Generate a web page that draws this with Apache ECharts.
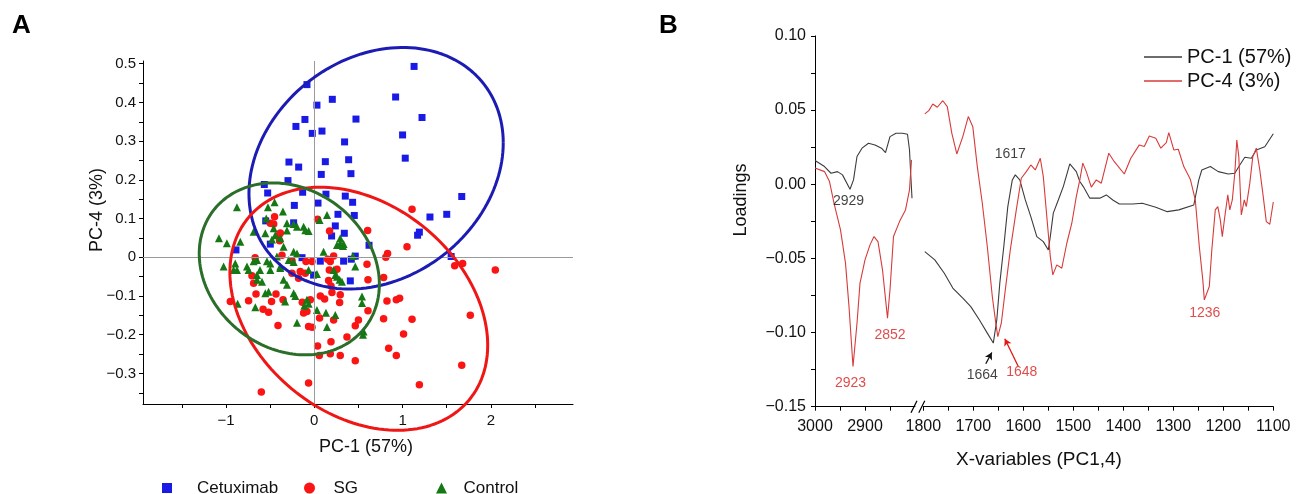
<!DOCTYPE html>
<html><head><meta charset="utf-8">
<script src="https://cdn.jsdelivr.net/npm/echarts@6/dist/echarts.min.js"></script>
<style>html,body{margin:0;padding:0;background:#fff}#c{width:1301px;height:494px}</style>
</head><body><div id="c"></div>
<script>
// ---------- Panel A data ----------
const cetuximab = [
[1.13,0.493],[-0.083,0.446],[0.03,0.393],[0.204,0.408],[0.921,0.414],[1.22,0.361],[-0.106,0.356],[-0.208,0.338],[0.472,0.357],[-0.023,0.320],[0.087,0.326],[1.00,0.316],[0.343,0.298],[1.03,0.256],[-0.287,0.246],[-0.177,0.233],[0.125,0.247],[0.389,0.252],[0.079,0.214],[0.415,0.216],[-0.298,0.198],[-0.566,0.188],[-0.528,0.166],[-0.132,0.168],[0.132,0.163],[0.351,0.158],[0.434,0.142],[1.67,0.157],[-0.226,0.134],[0.042,0.140],[0.268,0.111],[0.453,0.108],[1.31,0.104],[1.50,0.111],
[-0.55,0.094],[-0.234,0.089],[0.238,0.081],[0.34,0.062],[0.196,0.055],[1.19,0.065],[1.17,0.057],[0.62,0.031],[-0.498,0.034],[-0.887,0.019],[0.464,0.003],[0.332,-0.010],[0.419,-0.005],[0.068,-0.010],[-0.139,-0.001],[1.55,0.002],[0.408,-0.061],[-0.008,-0.046]
];
const sg = [
[0.604,0.069],[1.05,0.027],[0.83,0.010],[0.81,0.0],[0.173,0.068],[-0.46,0.086],[-0.40,0.057],[1.59,-0.022],[1.68,-0.016],[2.05,-0.033],[-0.366,0.005],[-0.67,-0.001],[-0.253,-0.009],[-0.094,-0.011],[-0.026,-0.011],[0.181,-0.011],[0.597,-0.018],[0.17,-0.033],[-0.159,-0.037],[-0.253,-0.041],[0.257,-0.031],[0.608,-0.058],[0.785,-0.052],[0.162,-0.060],[0.189,-0.074],[-0.706,-0.048],[-0.687,-0.067],[0.20,-0.091],[0.068,-0.100],[0.117,-0.108],[0.287,-0.117],[-0.66,-0.095],[-0.434,-0.095],[-0.354,-0.110],[-0.484,-0.114],[-0.744,-0.112],[-0.951,-0.114],[-0.136,-0.116],[-0.045,-0.110],[0.823,-0.113],[0.929,-0.110],[0.608,-0.138],[-0.121,-0.144],[-0.083,-0.140],[-0.58,-0.134],[-0.518,-0.142],[0.06,-0.157],[0.219,-0.162],[0.50,-0.162],[0.785,-0.159],[1.107,-0.160],[1.767,-0.150],[-0.411,-0.176],[-0.065,-0.179],[-0.026,-0.181],[0.464,-0.177],[1.011,-0.198],[0.37,-0.206],[0.037,-0.229],[0.189,-0.218],[0.842,-0.235],[0.057,-0.254],[0.181,-0.249],[0.294,-0.254],[0.464,-0.267],[0.929,-0.254],[1.67,-0.279],[-0.065,-0.325],[1.19,-0.329],[-0.60,-0.348],
[-0.45,0.105],[0.037,0.098],[-0.498,0.088],[-0.385,0.063],[-0.393,0.043],[0.151,-0.005],[0.219,0.003],[-0.178,-0.054],[-0.102,-0.041],[0.294,-0.097],[0.966,-0.106],[1.107,0.124]
];
const control = [
[-0.876,0.129],[-0.525,0.129],[-0.45,0.142],[-0.355,0.118],[-0.544,0.10],[0.06,0.096],[0.144,0.109],[-0.31,0.088],[-0.234,0.086],[-0.121,0.079],
[-1.08,0.049],[-0.99,0.036],[-0.838,0.040],[-0.687,0.066],[-0.555,0.062],[-0.442,0.057],[-0.31,0.069],[-0.196,0.079],[-0.102,0.070],[0.294,0.036],[0.105,0.014],[0.438,0.003],[-0.348,0.027],[-0.234,0.014],[-0.196,0.010],[-0.423,0.002],[-0.536,-0.010],[-0.687,-0.010],[-0.762,-0.024],[-0.895,-0.016],[-1.027,-0.024],[-0.876,-0.033],[-0.615,-0.033],[-0.498,-0.033],[-0.385,-0.024],[-0.29,-0.007],[-0.234,-0.012],[-0.065,-0.033],[0.03,-0.043],[0.219,-0.033],[0.238,-0.046],[0.287,-0.058],[0.294,0.049],[0.325,0.029],[-0.649,-0.058],[-0.592,-0.063],[-0.348,-0.058],[-0.31,-0.071],[-0.555,-0.093],[-0.518,-0.089],[-0.234,-0.093],[-0.215,-0.100],[-0.083,-0.110],[-0.064,-0.120],[-0.113,-0.125],[-0.33,-0.114],[-0.868,-0.120],[-0.668,-0.129],[0.03,-0.136],[0.132,-0.143],[0.238,-0.149],[0.54,-0.101],[0.54,-0.118],[-0.196,-0.169],[0.144,-0.180],[0.558,-0.192],[0.551,-0.20],
[-0.46,0.075],[-0.064,0.068],[-0.385,0.049],[-0.479,0.046],[0.257,0.032],[0.332,0.034],[0.464,-0.024],[-0.914,-0.033],[-0.744,-0.033],[-0.649,-0.007],[-0.498,-0.016],[-0.385,-0.028],[0.257,-0.050],[0.313,-0.063],[-0.649,-0.046]
];
// confidence ellipses: [centerX, centerY, spreadX, spreadY, correlation]
const cetuximabEllipse = [0.70, 0.23, 1.44, 0.312, 0.21];
const sgEllipse = [0.504, -0.133, 1.46, 0.314, -0.30];
const controlEllipse = [-0.283, -0.030, 1.02, 0.222, -0.178];
const xTicksA = [-1.5,-1,-0.5,0,0.5,1,1.5,2,2.5];
const xLabelsA = [-1,0,1,2];
const yTicksA = [-0.35,-0.3,-0.25,-0.2,-0.15,-0.1,-0.05,0,0.05,0.1,0.15,0.2,0.25,0.3,0.35,0.4,0.45,0.5];
const yLabelsA = [-0.3,-0.2,-0.1,0,0.1,0.2,0.3,0.4,0.5];

// ---------- Panel B data ----------
const pc1Left = [[3000,0.016],[2981,0.0119],[2968,0.0074],[2955,0.0085],[2945,0.0063],[2930,-0.0034],[2923,0.0029],[2916,0.0187],[2906,0.0243],[2893,0.0276],[2880,0.0265],[2867,0.0243],[2859,0.0213],[2850,0.0321],[2838,0.0344],[2825,0.0344],[2815,0.0337],[2811,0.0231],[2809,0.0096],[2806,-0.0094]];
const pc4Left = [[3000,0.011],[2981,0.0085],[2971,0.0018],[2962,-0.0128],[2949,-0.0308],[2939,-0.0532],[2932,-0.0825],[2924,-0.1229],[2916,-0.0937],[2910,-0.0667],[2900,-0.051],[2890,-0.0409],[2882,-0.0353],[2874,-0.0387],[2865,-0.0577],[2855,-0.0903],[2850,-0.0712],[2843,-0.0353],[2831,-0.0252],[2819,-0.0173],[2811,-0.0038],[2807,0.0164]];
const pc1Right = [[1797,-0.0454],[1777,-0.051],[1758,-0.060],[1741,-0.070],[1721,-0.0768],[1705,-0.0825],[1688,-0.0914],[1672,-0.1004],[1660,-0.1071],[1653,-0.0914],[1647,-0.0667],[1639,-0.042],[1631,-0.0151],[1622,0.0029],[1616,0.0063],[1607,0.0029],[1596,-0.0106],[1585,-0.0218],[1573,-0.0353],[1560,-0.0387],[1550,-0.0443],[1546,-0.0353],[1540,-0.0195],[1530,-0.0106],[1520,-0.0016],[1507,0.0137],[1494,0.0085],[1487,0.0018],[1480,-0.0016],[1467,-0.0094],[1447,-0.0094],[1434,-0.0072],[1421,-0.0106],[1408,-0.0133],[1381,-0.0133],[1362,-0.0128],[1335,-0.0155],[1312,-0.0185],[1289,-0.0173],[1259,-0.014],[1249,0.0029],[1243,0.0096],[1226,0.0119],[1210,0.0085],[1190,0.0069],[1177,0.0074],[1167,0.013],[1157,0.0182],[1144,0.0175],[1134,0.0231],[1117,0.0253],[1100,0.034]];
const pc4Right = [[1797,0.0474],[1789,0.0496],[1781,0.0541],[1772,0.0519],[1761,0.0563],[1752,0.0523],[1743,0.0344],[1733,0.0204],[1721,0.0321],[1710,0.0456],[1701,0.0388],[1692,0.0119],[1682,-0.0128],[1672,-0.042],[1662,-0.0757],[1655,-0.0937],[1651,-0.1027],[1644,-0.0937],[1636,-0.0712],[1626,-0.0443],[1614,-0.0173],[1604,0.004],[1594,0.0085],[1585,0.013],[1576,0.0096],[1566,0.0175],[1560,0.0051],[1553,-0.0218],[1546,-0.0488],[1541,-0.0611],[1533,-0.0544],[1523,-0.0566],[1513,-0.0398],[1503,-0.0263],[1494,-0.0084],[1487,0.0029],[1481,0.0142],[1474,0.0085],[1464,-0.002],[1454,0.0029],[1444,0.0007],[1429,0.0209],[1418,0.0152],[1398,0.0069],[1385,0.0175],[1368,0.0265],[1358,0.0254],[1348,0.0325],[1335,0.031],[1325,0.0243],[1314,0.028],[1309,0.0348],[1299,0.0231],[1290,0.0236],[1279,0.0119],[1266,0.0034],[1256,-0.0106],[1248,-0.042],[1241,-0.0645],[1238,-0.078],[1228,-0.069],[1223,-0.0443],[1216,-0.0173],[1211,-0.0151],[1206,-0.024],[1202,-0.0353],[1197,-0.0218],[1191,-0.0072],[1187,-0.0173],[1182,-0.0106],[1177,0.0074],[1173,0.0298],[1169,0.0186],[1164,-0.0207],[1158,-0.0106],[1154,-0.0151],[1147,0.0007],[1141,0.0186],[1134,0.0243],[1127,0.0096],[1121,-0.006],[1114,-0.0252],[1107,-0.027],[1100,-0.012]];
const labelsLeftBlack = [[2933,-0.0117,'2929']];
const labelsLeftRed = [[2929,-0.134,'2923'],[2850,-0.102,'2852']];
const labelsRightBlack = [[1626,0.0204,'1617'],[1682,-0.129,'1664']];
const labelsRightRed = [[1603,-0.1267,'1648'],[1237,-0.087,'1236']];
const arrowBlack = [[1675,-0.121],[1663,-0.1135]];
const arrowRed = [[1610,-0.1229],[1637,-0.1042]];
const xTicksBLeft = [3000,2950,2900,2850];
const xLabelsBLeft = [3000,2900];
const xTicksBRight = [1800,1750,1700,1650,1600,1550,1500,1450,1400,1350,1300,1250,1200,1150,1100];
const xLabelsBRight = [1800,1700,1600,1500,1400,1300,1200,1100];
const yTicksB = [-0.15,-0.125,-0.1,-0.075,-0.05,-0.025,0,0.025,0.05,0.075,0.1];
const yLabelsB = [-0.15,-0.10,-0.05,0,0.05,0.10];

// ---------- helpers ----------
const FONT = "'Liberation Sans', Arial, sans-serif";
const TXT = '#111';
function ellipsePoints(e){
  const [cx,cy,sx,sy,rho]=e, pts=[], k=Math.sqrt(1-rho*rho);
  for(let i=0;i<=160;i++){const t=i/160*2*Math.PI;
    pts.push([cx+sx*Math.cos(t), cy+sy*(rho*Math.cos(t)+k*Math.sin(t))]);}
  return pts;
}
const minus = s => s.replace('-', '\u2212');
const fmtA = v => { const r=Math.round(v*100)/100; if (r===0) return '0'; return minus(Number.isInteger(r)? String(r) : r.toFixed(1)); };
const fmtB = v => { const r=Math.round(v*1000)/1000; return minus((r===0?0:r).toFixed(2)); };
const fmtInt = v => String(Math.round(v));

const axisLineStyle = {show:true, onZero:false, lineStyle:{color:'#000', width:1}};
const tickStyle = {lineStyle:{color:'#000', width:1}, length:4};

const chart = echarts.init(document.getElementById('c'), null, {renderer:'canvas'});
const annot = (data, grid, color) => ({
  type:'scatter', xAxisIndex:grid, yAxisIndex:grid, symbolSize:0, silent:true, z:6,
  data: data.map(d=>({value:[d[0],d[1]], name:d[2]})),
  label:{show:true, position:'inside', formatter:p=>p.name, color:color, fontSize:14, fontFamily:FONT}
});

const option = {
  animation:false,
  backgroundColor:'#fff',
  grid:[
    {left:143, top:61, width:430, height:343, containLabel:false, outerBoundsMode:'none'},
    {left:815, top:35.9, width:100, height:370.8, containLabel:false, outerBoundsMode:'none'},
    {left:923.3, top:35.9, width:350, height:370.8, containLabel:false, outerBoundsMode:'none'}
  ],
  xAxis:[
    {gridIndex:0, type:'value', min:-1.94, max:2.93, axisLine:axisLineStyle,
     axisTick:Object.assign({show:true, customValues:xTicksA}, tickStyle),
     axisLabel:{customValues:xLabelsA, formatter:fmtA, fontSize:15, fontFamily:FONT, color:TXT, margin:9},
     splitLine:{show:false}},
    {gridIndex:1, type:'value', min:2800, max:3000, inverse:true, axisLine:axisLineStyle,
     axisTick:Object.assign({show:true, customValues:xTicksBLeft}, tickStyle),
     axisLabel:{customValues:xLabelsBLeft, formatter:fmtInt, fontSize:16, fontFamily:FONT, color:TXT, margin:12},
     splitLine:{show:false}},
    {gridIndex:2, type:'value', min:1100, max:1800, inverse:true, axisLine:axisLineStyle,
     axisTick:Object.assign({show:true, customValues:xTicksBRight}, tickStyle),
     axisLabel:{customValues:xLabelsBRight, formatter:fmtInt, fontSize:16, fontFamily:FONT, color:TXT, margin:12},
     splitLine:{show:false}}
  ],
  yAxis:[
    {gridIndex:0, type:'value', min:-0.379, max:0.507, axisLine:axisLineStyle,
     axisTick:Object.assign({show:true, customValues:yTicksA}, tickStyle),
     axisLabel:{customValues:yLabelsA, formatter:fmtA, fontSize:15, fontFamily:FONT, color:TXT, margin:7},
     splitLine:{show:false}},
    {gridIndex:1, type:'value', min:-0.15, max:0.10, axisLine:axisLineStyle,
     axisTick:Object.assign({show:true, customValues:yTicksB}, tickStyle),
     axisLabel:{customValues:yLabelsB, formatter:fmtB, fontSize:16, fontFamily:FONT, color:TXT, margin:9},
     splitLine:{show:false}},
    {gridIndex:2, type:'value', min:-0.15, max:0.10, show:false, splitLine:{show:false}}
  ],
  legend:[
    {left:157, top:473, itemWidth:50, itemHeight:10, selectedMode:false,
     data:[{name:'Cetuximab', icon:'path://M0,0H10V10H0Z'}],
     textStyle:{fontSize:17, lineHeight:20, fontFamily:FONT, color:TXT}},
    {left:299, top:473, itemWidth:38, itemHeight:11, selectedMode:false,
     data:[{name:'SG', icon:'path://M5,0A5,5,0,1,1,5,10A5,5,0,1,1,5,0Z'}],
     textStyle:{fontSize:17, lineHeight:20, fontFamily:FONT, color:TXT}},
    {left:431, top:473, itemWidth:34, itemHeight:11, selectedMode:false,
     data:[{name:'Control', icon:'path://M5,0L10,10H0Z'}],
     textStyle:{fontSize:17, lineHeight:20, fontFamily:FONT, color:TXT}},
    {left:1139, top:42, orient:'vertical', itemWidth:38, itemHeight:1.3, itemGap:4, selectedMode:false,
     data:[{name:'PC-1 (57%)', icon:'rect'},{name:'PC-4 (3%)', icon:'rect'}],
     textStyle:{fontSize:20, lineHeight:20, fontFamily:FONT, color:TXT}}
  ],
  series:[
    {type:'line', name:'zero', xAxisIndex:0, yAxisIndex:0, data:[], z:1, silent:true,
     markLine:{silent:true, symbol:['none','none'], label:{show:false},
       lineStyle:{color:'#9a9a9a', width:1, type:'solid'}, data:[{xAxis:0},{yAxis:0}]}},
    {type:'scatter', name:'Cetuximab', xAxisIndex:0, yAxisIndex:0, data:cetuximab, symbol:'rect', symbolSize:7, itemStyle:{color:'#1a1ae6', opacity:1}, z:3},
    {type:'scatter', name:'SG', xAxisIndex:0, yAxisIndex:0, data:sg, symbol:'circle', symbolSize:7.5, itemStyle:{color:'#fa1414', opacity:1}, z:3},
    {type:'scatter', name:'Control', xAxisIndex:0, yAxisIndex:0, data:control, symbol:'triangle', symbolSize:8, itemStyle:{color:'#157815', opacity:1}, z:3},
    {type:'line', name:'eB', xAxisIndex:0, yAxisIndex:0, data:ellipsePoints(cetuximabEllipse), symbol:'none', clip:false, silent:true, z:5, lineStyle:{color:'#1c1cb4', width:3}},
    {type:'line', name:'eR', xAxisIndex:0, yAxisIndex:0, data:ellipsePoints(sgEllipse), symbol:'none', clip:false, silent:true, z:5, lineStyle:{color:'#f01616', width:3}},
    {type:'line', name:'eG', xAxisIndex:0, yAxisIndex:0, data:ellipsePoints(controlEllipse), symbol:'none', clip:false, silent:true, z:5, lineStyle:{color:'#2a6e2a', width:3}},

    {type:'line', name:'PC-1 (57%)', xAxisIndex:1, yAxisIndex:1, data:pc1Left, symbol:'none', lineStyle:{color:'#3c3c3c', width:1.1}, itemStyle:{color:'#3c3c3c'}},
    {type:'line', name:'PC-4 (3%)', xAxisIndex:1, yAxisIndex:1, data:pc4Left, symbol:'none', lineStyle:{color:'#d83a3a', width:1.1}, itemStyle:{color:'#d83a3a'}},
    {type:'line', name:'PC-1 (57%)', xAxisIndex:2, yAxisIndex:2, data:pc1Right, symbol:'none', lineStyle:{color:'#3c3c3c', width:1.1}, itemStyle:{color:'#3c3c3c'},
     markLine:{silent:true, symbol:['none','arrow'], symbolSize:[6,7], label:{show:false}, lineStyle:{color:'#111', width:1.3, type:'solid'},
       data:[[{coord:arrowBlack[0]},{coord:arrowBlack[1]}]]}},
    {type:'line', name:'PC-4 (3%)', xAxisIndex:2, yAxisIndex:2, data:pc4Right, symbol:'none', lineStyle:{color:'#d83a3a', width:1.1}, itemStyle:{color:'#d83a3a'},
     markLine:{silent:true, symbol:['none','arrow'], symbolSize:[6,7], label:{show:false}, lineStyle:{color:'#e01818', width:1.3, type:'solid'},
       data:[[{coord:arrowRed[0]},{coord:arrowRed[1]}]]}},
    annot(labelsLeftBlack,1,'#111'),
    annot(labelsLeftRed,1,'#d81e1e'),
    annot(labelsRightBlack,2,'#111'),
    annot(labelsRightRed,2,'#d81e1e')
  ],
  graphic:[
    {type:'text', id:'lA', left:12, top:13, style:{text:'A', font:"bold 26px 'Liberation Sans', Arial, sans-serif", fill:'#000'}},
    {type:'text', id:'lB', left:659, top:13, style:{text:'B', font:"bold 26px 'Liberation Sans', Arial, sans-serif", fill:'#000'}},
    {type:'text', id:'tAx', x:366, y:447, style:{text:'PC-1 (57%)', font:"18px 'Liberation Sans', Arial, sans-serif", fill:TXT, align:'center', verticalAlign:'middle'}},
    {type:'text', id:'tAy', x:97, y:210, rotation:Math.PI/2, style:{text:'PC-4 (3%)', font:"18px 'Liberation Sans', Arial, sans-serif", fill:TXT, align:'center', verticalAlign:'middle'}},
    {type:'text', id:'tBy', x:741, y:200, rotation:Math.PI/2, style:{text:'Loadings', font:"18px 'Liberation Sans', Arial, sans-serif", fill:TXT, align:'center', verticalAlign:'middle'}},
    {type:'text', id:'tBx', x:1039, y:460, style:{text:'X-variables (PC1,4)', font:"19px 'Liberation Sans', Arial, sans-serif", fill:TXT, align:'center', verticalAlign:'middle'}}
  ]
};
chart.setOption(option);
// axis-break marks placed from the axis scales
const pL = chart.convertToPixel({xAxisIndex:1, yAxisIndex:1}, [2800,-0.15]);
const pR = chart.convertToPixel({xAxisIndex:2, yAxisIndex:2}, [1800,-0.15]);
const bx1 = pL[0]-1, bx2 = pR[0]-1.5, by = pL[1];
chart.setOption({graphic:[
  {type:'line', id:'brk1', shape:{x1:bx1-3, y1:by+6, x2:bx1+3, y2:by-6}, style:{stroke:'#000', lineWidth:1.2}, z:11},
  {type:'line', id:'brk2', shape:{x1:bx2-3, y1:by+6, x2:bx2+3, y2:by-6}, style:{stroke:'#000', lineWidth:1.2}, z:11}
]});
</script></body></html>
